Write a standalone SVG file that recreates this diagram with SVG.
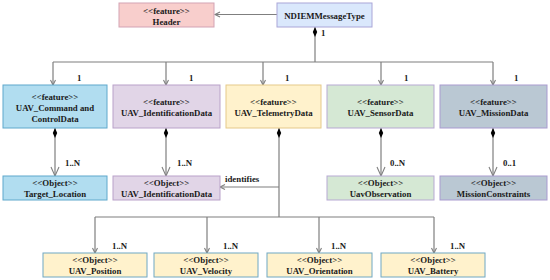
<svg xmlns="http://www.w3.org/2000/svg" width="550" height="280" viewBox="0 0 550 280">
<style>
text{font-family:"Liberation Serif","Times New Roman",serif;font-size:8.8px;font-weight:bold;fill:#1a1a1a}
.c{text-anchor:middle}
.ln{fill:none;stroke:#7f7f7f;stroke-width:1.2}
.bx{stroke-width:1}
</style>
<defs>
<marker id="as" markerUnits="userSpaceOnUse" markerWidth="8" markerHeight="8" refX="6" refY="4" orient="auto">
<path d="M1,1.5 L6,4 L1,6.5" fill="none" stroke="#7f7f7f" stroke-width="1.1"/>
</marker>
<marker id="al" markerUnits="userSpaceOnUse" markerWidth="12" markerHeight="10" refX="10" refY="5" orient="auto">
<path d="M1,1 L10,5 L1,9" fill="none" stroke="#7f7f7f" stroke-width="1.1"/>
</marker>
<marker id="dm" markerUnits="userSpaceOnUse" markerWidth="12" markerHeight="6" refX="0" refY="3" orient="auto">
<path d="M0,3 L5,0.8 L10,3 L5,5.2 Z" fill="#000"/>
</marker>
</defs>
<g id="connectors">
<path class="ln" d="M277,14.5 H215" marker-end="url(#as)"/>
<path class="ln" d="M315,27 V62" marker-start="url(#dm)"/>
<path class="ln" d="M53,62 H493"/>
<path class="ln" d="M53,62 V85" marker-end="url(#as)"/>
<path class="ln" d="M166,62 V85" marker-end="url(#as)"/>
<path class="ln" d="M263,62 V85" marker-end="url(#as)"/>
<path class="ln" d="M381,62 V85" marker-end="url(#as)"/>
<path class="ln" d="M493,62 V85" marker-end="url(#as)"/>
<path class="ln" d="M55,128 V176" marker-start="url(#dm)" marker-end="url(#al)"/>
<path class="ln" d="M166,128 V176" marker-start="url(#dm)" marker-end="url(#al)"/>
<path class="ln" d="M381,128 V176" marker-start="url(#dm)" marker-end="url(#al)"/>
<path class="ln" d="M493,128 V176" marker-start="url(#dm)" marker-end="url(#al)"/>
<path class="ln" d="M279,128 V217" marker-start="url(#dm)"/>
<path class="ln" d="M279,187 H220" marker-end="url(#as)"/>
<path class="ln" d="M95,217 H434"/>
<path class="ln" d="M95,217 V253" marker-end="url(#as)"/>
<path class="ln" d="M207,217 V253" marker-end="url(#as)"/>
<path class="ln" d="M319,217 V253" marker-end="url(#as)"/>
<path class="ln" d="M434,217 V253" marker-end="url(#as)"/>
<text x="321" y="35.5">1</text>
<text x="77" y="80.5">1</text>
<text x="189" y="80.5">1</text>
<text x="285" y="80.5">1</text>
<text x="404" y="80.5">1</text>
<text x="514" y="80.5">1</text>
<text x="65" y="166">1..N</text>
<text x="177" y="166">1..N</text>
<text x="390" y="166">0..N</text>
<text x="503" y="166">0..1</text>
<text x="225" y="182">identifies</text>
<text x="112" y="249">1..N</text>
<text x="223" y="249">1..N</text>
<text x="331" y="249">1..N</text>
<text x="450" y="249">1..N</text>
</g>
<g id="header">
<rect class="bx" x="119" y="3" width="95" height="24" fill="#f8cecc" stroke="#d3a3b4"/>
<text class="c" x="166.5" y="13.5">&lt;&lt;feature&gt;&gt;</text>
<text class="c" x="166.5" y="24.5">Header</text>
</g>
<g id="ndiem">
<rect class="bx" x="277" y="3" width="95" height="24" fill="#dae8fc" stroke="#aaa6d8"/>
<text class="c" x="324.5" y="18.5">NDIEMMessageType</text>
</g>
<g id="cmd">
<rect class="bx" x="3" y="85" width="104" height="43" fill="#b1ddf0" stroke="#5fa8cc"/>
<text class="c" x="55" y="100">&lt;&lt;feature&gt;&gt;</text>
<text class="c" x="55" y="110.5">UAV_Command and</text>
<text class="c" x="55" y="121.5">ControlData</text>
</g>
<g id="ident">
<rect class="bx" x="113" y="85" width="107" height="43" fill="#e1d5e7" stroke="#b9a2c9"/>
<text class="c" x="166.5" y="104.5">&lt;&lt;feature&gt;&gt;</text>
<text class="c" x="166.5" y="115.5">UAV_IdentificationData</text>
</g>
<g id="telemetry">
<rect class="bx" x="226" y="85" width="95" height="43" fill="#fff2cc" stroke="#e5c98a"/>
<text class="c" x="273.5" y="105">&lt;&lt;feature&gt;&gt;</text>
<text class="c" x="273.5" y="116">UAV_TelemetryData</text>
</g>
<g id="sensor">
<rect class="bx" x="327" y="85" width="107" height="43" fill="#d5e8d4" stroke="#b7a9d3"/>
<text class="c" x="380.5" y="104.5">&lt;&lt;feature&gt;&gt;</text>
<text class="c" x="380.5" y="115.5">UAV_SensorData</text>
</g>
<g id="mission">
<rect class="bx" x="440" y="85" width="107" height="43" fill="#bac8d3" stroke="#a99bd0"/>
<text class="c" x="493.5" y="104.5">&lt;&lt;feature&gt;&gt;</text>
<text class="c" x="493.5" y="115.5">UAV_MissionData</text>
</g>
<g id="target">
<rect class="bx" x="3" y="176" width="104" height="24" fill="#b1ddf0" stroke="#5fa8cc"/>
<text class="c" x="55" y="186">&lt;&lt;Object&gt;&gt;</text>
<text class="c" x="55" y="196.5">Target_Location</text>
</g>
<g id="identobj">
<rect class="bx" x="113" y="176" width="107" height="24" fill="#e1d5e7" stroke="#b9a2c9"/>
<text class="c" x="166.5" y="186">&lt;&lt;Object&gt;&gt;</text>
<text class="c" x="166.5" y="196.5">UAV_IdentificationData</text>
</g>
<g id="observation">
<rect class="bx" x="327" y="176" width="107" height="24" fill="#d5e8d4" stroke="#b7a9d3"/>
<text class="c" x="380.5" y="186">&lt;&lt;Object&gt;&gt;</text>
<text class="c" x="380.5" y="196.5">UavObservation</text>
</g>
<g id="constraints">
<rect class="bx" x="440" y="176" width="107" height="24" fill="#bac8d3" stroke="#a99bd0"/>
<text class="c" x="493.5" y="186">&lt;&lt;Object&gt;&gt;</text>
<text class="c" x="493.5" y="196.5">MissionConstraints</text>
</g>
<g id="position">
<rect class="bx" x="43" y="253" width="104" height="24" fill="#fff2cc" stroke="#6fa8c4"/>
<text class="c" x="95" y="263">&lt;&lt;Object&gt;&gt;</text>
<text class="c" x="95" y="274">UAV_Position</text>
</g>
<g id="velocity">
<rect class="bx" x="154" y="253" width="104" height="24" fill="#fff2cc" stroke="#6fa8c4"/>
<text class="c" x="206" y="263">&lt;&lt;Object&gt;&gt;</text>
<text class="c" x="206" y="274">UAV_Velocity</text>
</g>
<g id="orientation">
<rect class="bx" x="267" y="253" width="105" height="24" fill="#fff2cc" stroke="#6fa8c4"/>
<text class="c" x="319.5" y="263">&lt;&lt;Object&gt;&gt;</text>
<text class="c" x="319.5" y="274">UAV_Orientation</text>
</g>
<g id="battery">
<rect class="bx" x="381" y="253" width="104" height="24" fill="#fff2cc" stroke="#6fa8c4"/>
<text class="c" x="433" y="263">&lt;&lt;Object&gt;&gt;</text>
<text class="c" x="433" y="274">UAV_Battery</text>
</g>
</svg>
